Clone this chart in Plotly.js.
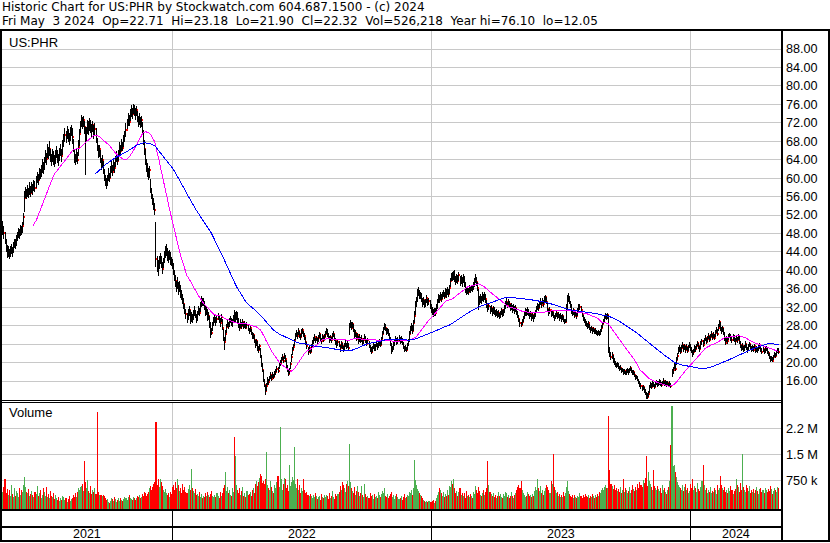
<!DOCTYPE html>
<html>
<head>
<meta charset="utf-8">
<script src="https://cdn.plot.ly/plotly-3.0.1.min.js"></script>
<style>
  html, body { margin: 0; padding: 0; background: #fff; }
  #chart { width: 830px; height: 543px; }
  /* hard-edged 1px strokes, like a raster stock chart */
  #chart .scatterlayer path, #chart .barlayer path, #chart .layer-above path,
  #chart .gridlayer path { shape-rendering: crispEdges; }
</style>
</head>
<body>
<div id="chart"></div>
<script>
// US:PHR daily bars, May 2021 - May 3 2024 (trading days, oldest first)

const close2021 = [
  49.2,48.0,46.5,45.1,43.6,44.2,43.1,44.0,44.6,43.9,
  45.2,46.0,45.4,46.8,47.5,48.2,47.6,49.0,48.4,49.6,
  51.5,55.8,56.9,56.2,57.4,56.6,57.9,56.8,58.2,57.5,
  58.6,57.9,59.4,60.1,59.6,61.2,60.5,61.8,62.6,62.0,
  63.5,64.8,64.1,65.9,65.2,66.4,64.7,63.8,65.1,64.2,
  63.6,64.9,65.8,64.5,63.9,65.3,66.1,64.8,66.9,68.2,
  69.4,68.7,70.2,69.1,68.4,69.8,70.5,68.9,66.2,64.5,
  63.8,65.2,64.0,66.8,69.5,71.4,72.8,71.9,72.6,71.0,
  68.4,69.9,71.8,70.6,72.1,71.3,70.2,71.6,69.8,70.7,
  68.5,66.9,65.2,66.4,64.1,62.8,63.9,61.5,60.2,59.1,
  58.6,59.8,60.9,60.0,61.8,62.5,61.4,63.2,62.1,63.8,
  64.6,63.7,65.4,66.8,65.9,67.5,66.6,68.3,69.1,70.4,
  71.8,72.9,72.2,73.8,74.6,73.9,75.2,74.5,74.0,74.8,
  73.1,72.4,73.0,71.8,72.6,70.2,68.1,66.4,64.0,62.5,
  61.4,60.6,61.8,57.4,56.2,55.3,54.4,53.2,42.5,41.2,
  40.6,41.8,42.6,41.5,40.4,41.9,42.8,43.9,44.6,43.4,
  42.8,43.6,42.4,41.9
];
const high2021 = [
  50.8,49.6,48.3,46.8,45.4,45.3,44.6,45.2,45.8,45.1,
  46.1,46.9,46.7,47.6,48.3,49.1,48.9,49.8,49.6,50.4,
  52.4,57.2,58.1,57.6,58.6,57.8,59.2,58.3,59.1,58.8,
  59.7,59.4,60.5,61.3,61.0,62.3,61.9,62.9,64.1,63.4,
  64.6,66.2,65.5,67.4,66.8,68.1,66.3,65.2,66.4,65.8,
  65.1,66.2,66.9,66.1,65.2,66.5,67.4,66.3,68.2,69.6,
  70.8,70.2,71.4,70.6,69.9,71.1,71.6,70.8,68.4,66.1,
  65.3,66.4,65.6,68.2,70.6,72.5,73.6,73.2,73.5,72.4,
  71.2,71.1,72.7,72.3,73.1,72.6,71.8,72.4,71.5,71.9,
  70.9,68.7,67.1,67.3,66.2,64.4,65.0,63.8,61.9,60.6,
  60.1,60.7,62.1,61.2,62.6,63.7,62.9,64.3,63.6,64.9,
  65.8,65.1,66.2,67.9,67.3,68.6,67.8,69.4,70.3,71.9,
  72.9,74.2,73.6,75.1,75.8,75.2,76.1,75.9,75.3,75.6,
  74.6,73.5,74.1,73.2,73.4,72.1,70.4,68.2,66.3,64.1,
  63.2,62.1,62.7,59.8,57.9,56.6,55.8,54.6,50.5,43.1,
  42.3,43.1,43.8,43.2,41.8,42.7,44.1,45.3,45.8,44.9,
  44.2,44.5,43.9,43.0
];
const low2021 = [
  47.6,46.9,45.8,43.9,42.6,42.9,42.4,42.8,43.5,43.0,
  43.8,44.9,44.6,45.2,46.4,47.1,46.8,47.5,47.6,48.2,
  49.8,52.6,55.6,55.4,55.9,55.7,56.4,55.9,56.7,56.4,
  57.2,56.9,57.8,58.9,58.6,59.5,59.8,60.3,61.2,60.9,
  61.8,63.2,62.8,64.3,64.1,64.9,63.5,62.6,63.4,62.9,
  62.4,63.1,64.4,63.2,62.6,63.7,64.8,63.6,65.1,66.7,
  67.9,67.6,68.5,67.9,67.2,68.1,69.2,67.5,65.6,63.2,
  62.8,63.4,63.1,64.7,66.9,69.8,71.2,70.6,71.1,69.5,
  60.6,67.8,69.6,69.4,70.3,69.9,68.7,70.1,68.6,69.2,
  67.6,65.8,64.3,64.6,63.2,61.7,62.4,60.8,59.3,58.2,
  57.7,58.2,59.3,59.2,60.1,61.2,60.5,61.6,61.2,62.4,
  63.5,62.9,63.8,65.1,65.2,66.0,65.8,66.7,67.9,69.0,
  70.6,71.4,71.3,72.4,73.2,72.8,73.9,73.4,72.6,73.5,
  72.2,71.1,71.6,70.9,71.2,69.5,67.3,65.1,62.8,61.4,
  60.3,59.5,60.1,56.8,55.4,54.1,53.2,52.1,40.8,39.6,
  38.8,40.2,41.3,40.6,39.2,40.5,41.6,42.7,43.2,42.1,
  41.7,42.3,41.2,40.9
];
const vol2021 = [
  420,560,790,380,510,330,470,290,610,350,
  280,520,310,450,380,260,540,330,470,400,
  620,855,560,420,380,510,290,360,440,320,
  270,410,350,600,290,380,460,250,330,520,
  410,300,560,280,350,240,430,310,260,390,
  200,330,240,170,280,150,230,190,310,260,
  180,240,130,210,290,160,220,250,330,280,
  380,260,410,520,460,560,590,640,430,1300,
  690,520,760,440,380,600,350,470,400,540,
  360,2730,410,320,340,330,310,335,290,240,
  180,220,130,90,160,240,200,150,260,210,
  120,190,230,160,250,180,140,210,270,230,
  190,260,320,240,210,170,280,250,190,230,
  300,260,340,230,280,360,310,420,380,290,
  350,410,520,600,480,560,640,700,2440,620,
  780,560,800,690,590,480,420,510,370,330,
  390,280,420,350
];

const close2022 = [
  41.2,39.8,38.5,37.6,36.2,37.1,35.8,36.5,35.2,34.6,
  33.4,32.8,31.2,30.5,29.6,30.8,31.4,29.2,30.1,29.5,
  30.6,31.2,30.1,29.4,30.5,31.6,30.8,32.4,33.5,32.8,
  33.2,31.9,30.8,31.4,29.6,30.2,28.4,26.6,26.4,28.1,
  28.9,29.6,28.8,29.4,30.1,29.2,28.5,29.8,27.6,25.2,
  24.4,26.3,27.8,28.6,27.9,28.9,29.5,28.2,28.8,29.7,
  29.2,30.3,30.6,29.4,28.3,27.6,28.5,27.9,28.7,27.8,
  28.4,27.6,28.2,27.3,26.8,27.5,26.2,25.4,25.9,24.8,
  23.9,24.6,23.2,22.8,23.5,21.2,19.5,18.4,16.2,15.1,
  13.8,14.9,16.2,15.8,16.6,17.2,16.5,17.4,16.9,17.6,
  17.9,18.6,18.2,19.4,19.9,20.6,21.2,20.4,21.5,20.7,
  19.2,18.4,17.6,18.1,19.6,21.3,22.8,23.4,24.6,25.8,
  26.4,25.8,26.9,26.1,25.5,26.6,27.0,26.2,25.7,24.4,
  23.6,22.4,23.1,22.2,23.5,24.2,24.9,25.6,24.8,25.3,
  24.6,25.4,26.1,25.2,24.7,25.8,24.9,25.5,26.3,27.1,
  26.2,25.6,24.8,25.5,24.9,25.8,26.2,25.1,24.6,23.9,
  24.5,23.8,23.1,24.2,23.5,22.8,23.6,24.1,23.4,24.0,
  23.2,27.8,28.4,27.6,28.3,27.1,25.8,26.4,25.2,25.9,
  24.6,25.4,24.8,25.2,24.3,24.9,25.5,24.6,24.1,24.8,
  23.6,23.1,22.4,23.2,23.8,22.9,23.5,24.1,23.3,24.0,
  24.6,23.8,25.1,26.3,27.2,28.0,27.4,26.5,27.1,26.2,
  25.3,24.1,22.6,22.9,23.8,24.6,25.2,24.4,24.9,25.3,
  24.6,25.1,24.3,23.4,22.9,23.1,22.7,23.8,24.6,26.2,
  27.0,27.8,26.9,28.5,30.2,32.6,33.4,34.8,35.6,34.2,
  34.9,33.6,32.8,33.5,32.4,33.2,33.9,32.7,33.4,32.2,31.6
];
const high2022 = [
  42.4,41.5,40.1,38.9,37.8,38.6,37.4,37.8,36.9,35.7,
  34.8,33.9,32.7,31.6,30.8,31.6,32.2,31.3,30.9,30.6,
  31.4,32.2,31.5,30.6,31.2,32.3,31.9,33.1,34.4,33.9,
  34.1,33.4,32.2,32.0,31.6,30.9,30.1,28.7,27.6,28.9,
  29.8,30.3,29.9,30.2,30.8,30.4,29.6,30.5,29.4,27.3,
  25.6,27.1,28.4,29.5,28.8,29.6,30.2,29.7,29.4,30.3,
  31.3,30.9,31.1,30.9,29.6,28.6,29.4,28.8,29.5,28.9,
  29.1,28.6,28.9,28.4,27.6,28.1,27.3,26.6,26.5,25.9,
  24.8,25.1,24.7,23.6,24.1,23.2,21.6,19.8,18.3,16.4,
  15.2,15.6,16.8,16.5,17.1,17.9,17.3,18.0,17.6,18.2,
  18.6,19.2,19.0,20.1,20.6,21.2,21.8,21.3,22.0,21.6,
  20.6,19.4,18.5,18.9,20.2,21.9,23.4,24.1,25.2,26.5,
  27.1,26.7,27.4,26.9,26.2,27.2,27.6,26.8,26.4,25.6,
  24.5,23.4,23.6,23.0,24.1,24.8,25.5,26.1,25.4,25.8,
  25.4,26.0,26.6,26.2,25.3,26.3,25.7,26.1,26.9,27.6,
  27.2,26.4,25.7,26.0,25.6,26.4,26.8,26.1,25.3,24.6,
  25.1,24.6,23.9,24.7,24.3,23.6,24.2,24.8,24.2,24.6,
  24.3,28.6,29.2,28.8,28.9,28.4,27.2,27.0,26.5,26.4,
  25.8,26.1,25.6,25.9,25.1,25.4,26.1,25.7,24.9,25.3,
  24.7,23.9,23.4,23.7,24.4,24.1,24.0,24.6,24.2,24.5,
  25.2,24.9,25.6,26.9,27.8,28.5,28.3,27.5,27.6,27.3,
  26.4,25.6,24.2,23.7,24.5,25.1,25.8,25.4,25.5,25.9,
  25.5,25.7,25.3,24.4,23.6,23.8,23.4,24.3,25.2,26.8,
  27.9,28.6,28.1,29.3,31.1,33.4,34.2,35.9,36.3,35.8,
  35.4,35.1,33.9,34.2,33.6,33.8,34.6,33.8,34.1,33.5,32.6
];
const low2022 = [
  40.3,39.1,37.6,36.4,35.3,35.9,34.7,35.4,34.1,33.6,
  32.6,31.7,30.6,29.4,28.5,29.3,30.2,28.4,28.9,28.6,
  29.3,30.1,29.6,28.6,29.1,30.4,30.2,30.9,32.1,32.2,
  32.3,31.5,30.2,30.4,29.1,29.3,27.6,25.4,25.9,26.8,
  27.9,28.6,27.9,28.5,29.2,28.6,27.7,28.8,27.1,24.6,
  22.8,24.6,26.5,27.7,27.3,27.8,28.6,27.9,27.8,28.6,
  28.8,28.9,29.3,28.6,27.6,26.9,27.4,27.3,28.0,27.2,
  27.5,27.2,27.4,26.9,26.1,26.7,25.9,25.1,25.2,24.3,
  23.2,23.6,22.6,22.1,22.7,20.9,19.1,17.9,15.8,14.6,
  13.0,13.9,15.1,15.2,15.9,16.4,16.1,16.6,16.4,16.9,
  17.3,17.9,17.7,18.5,19.2,19.8,20.6,19.9,20.7,20.1,
  18.8,17.9,17.0,17.5,18.6,20.1,21.6,22.7,23.6,24.8,
  25.6,25.2,25.9,25.4,24.8,25.6,26.3,25.6,24.9,23.8,
  22.9,21.7,22.3,21.8,22.4,23.4,24.1,24.7,24.2,24.6,
  24.1,24.5,25.3,24.7,24.1,24.9,24.4,24.8,25.5,26.2,
  25.6,25.1,24.2,24.6,24.3,24.9,25.5,24.6,23.9,23.2,
  23.6,23.3,22.4,23.2,22.9,22.4,22.7,23.3,22.9,23.2,
  22.7,25.9,27.4,27.1,27.4,26.6,25.3,25.5,24.7,25.1,
  24.1,24.5,24.2,24.4,23.7,24.1,24.8,24.2,23.6,24.0,
  23.2,22.4,21.9,22.3,23.0,22.5,22.6,23.3,22.8,23.2,
  23.7,23.4,23.9,25.2,26.1,27.1,26.9,26.0,26.3,25.8,
  24.8,23.5,21.9,22.2,22.8,23.7,24.4,23.9,24.1,24.6,
  24.1,24.2,23.8,22.9,22.3,22.5,22.3,22.8,23.6,24.4,
  26.1,26.9,26.2,26.8,28.6,30.4,32.1,33.2,34.4,33.8,
  33.7,33.1,32.1,32.4,31.8,32.1,33.0,32.2,32.4,31.6,30.8
];
const vol2022 = [
  560,620,480,700,540,790,610,450,520,380,
  640,480,560,420,390,510,610,460,1070,540,
  430,380,490,330,360,300,420,280,350,240,
  310,260,380,290,420,330,270,360,450,310,
  260,340,280,390,310,250,420,300,380,520,
  610,1000,430,560,380,470,340,290,520,410,
  2000,1450,620,480,390,520,330,430,560,300,
  380,270,440,320,360,410,290,480,520,390,
  630,740,580,690,810,930,870,660,720,640,
  790,1560,610,540,480,720,560,430,380,620,
  520,690,860,560,2290,780,460,640,830,800,
  520,610,430,1200,580,700,840,760,1700,650,
  520,780,460,610,390,530,440,800,470,380,
  420,340,290,360,310,240,330,270,380,300,
  220,280,310,190,350,260,230,320,270,340,
  290,210,380,250,300,430,270,220,360,310,
  350,420,580,470,700,620,540,410,650,720,
  600,1790,690,520,430,380,560,340,450,600,
  420,300,380,600,330,280,640,350,260,310,
  240,380,290,330,220,360,270,310,250,400,
  330,280,360,430,390,520,310,280,350,240,
  300,360,410,260,330,220,290,350,270,210,
  250,310,190,280,360,230,270,320,290,420,
  380,460,330,540,1340,760,620,500,430,380,
  340,290,240,180,150,120,140,110,160,130,120
];

const close2023 = [
  31.2,30.5,31.4,30.8,31.9,33.2,34.1,33.6,34.5,33.8,
  34.6,35.1,34.3,35.4,34.8,35.6,34.9,36.2,37.8,38.9,
  38.2,39.1,38.4,37.6,38.5,37.8,38.9,37.2,38.4,37.5,
  38.6,37.1,35.8,35.2,35.9,35.4,36.2,35.7,36.4,35.9,
  36.8,37.6,38.3,37.4,36.2,33.8,33.1,34.2,33.5,34.4,
  33.8,34.6,33.7,32.4,31.6,32.2,31.1,31.8,30.9,31.5,
  31.2,30.4,31.0,30.2,30.8,29.9,30.6,31.3,30.5,30.9,
  31.8,32.6,33.1,32.4,33.2,32.6,31.9,32.3,31.5,32.0,
  31.2,31.8,30.9,30.2,29.4,28.6,28.2,28.9,29.6,30.4,
  31.1,30.6,31.4,30.8,30.1,30.7,29.8,30.4,29.6,30.2,
  30.9,31.6,32.4,31.8,32.6,33.2,32.5,33.4,32.8,33.9,
  34.2,33.1,31.6,30.8,31.4,30.5,30.9,30.2,29.6,30.3,
  30.8,29.9,30.4,29.7,30.2,29.5,30.1,29.3,28.8,28.9,
  31.5,33.6,34.2,33.1,32.4,31.2,30.6,31.4,30.2,30.8,
  30.1,31.2,31.9,32.1,31.4,30.3,29.6,29.1,28.7,28.4,
  27.8,28.5,27.6,27.1,27.5,26.8,27.3,26.6,26.9,26.4,
  26.1,26.5,26.2,26.8,27.6,28.4,28.9,29.6,30.1,29.8,
  30.3,22.6,21.8,21.2,21.6,20.6,20.2,19.7,19.3,19.6,
  19.1,18.6,18.9,18.2,18.4,17.8,18.1,17.6,17.9,18.3,
  17.9,18.4,18.8,18.2,17.6,17.9,17.2,16.6,16.9,16.3,
  15.8,15.4,14.9,14.3,14.6,13.8,13.4,12.8,12.6,13.2,
  14.6,15.2,14.8,15.4,15.1,14.7,15.3,15.6,15.2,15.5,
  15.8,15.4,15.1,15.6,15.9,15.3,15.7,15.2,15.5,15.0,
  15.4,14.9,17.8,18.4,19.2,18.7,20.6,21.4,22.6,23.1,
  22.4,23.2,23.8,22.9,23.5,22.7,23.4,22.6,23.3,23.8
];
const high2023 = [
  32.1,31.6,31.9,31.8,32.6,33.8,34.8,34.6,35.2,34.9,
  35.3,35.8,35.4,36.1,35.9,36.4,36.0,36.9,38.4,39.5,
  39.6,39.8,40.0,38.8,39.2,38.9,39.6,38.7,39.1,38.6,
  39.3,38.7,37.4,36.3,36.6,36.1,36.8,36.5,36.9,36.6,
  37.4,38.3,39.2,38.6,37.5,35.9,34.4,34.8,34.5,35.2,
  34.9,35.3,34.8,33.6,32.5,32.9,32.2,32.5,31.8,32.3,
  32.0,31.4,31.6,31.1,31.4,30.8,31.2,31.9,31.4,31.6,
  32.4,33.4,33.9,33.2,33.8,33.4,32.8,32.9,32.4,32.7,
  32.3,32.4,31.9,31.1,30.3,29.5,28.9,29.4,30.2,31.0,
  31.8,31.6,32.0,31.7,31.0,31.2,30.6,30.9,30.4,30.8,
  31.4,32.2,33.0,32.7,33.1,33.9,33.4,33.9,33.6,34.4,
  34.6,34.3,33.0,31.7,32.0,31.3,31.5,31.0,30.4,30.8,
  31.4,30.7,31.0,30.5,30.8,30.3,30.6,30.0,29.5,29.4,
  32.8,34.6,35.1,34.4,33.3,32.6,31.4,31.9,31.3,31.5,
  30.9,31.8,32.6,32.7,32.3,31.2,30.4,29.8,29.4,29.1,
  28.6,29.0,28.4,27.8,28.0,27.6,27.8,27.3,27.4,27.0,
  26.8,27.1,26.9,27.3,28.2,28.9,29.5,30.2,30.7,30.5,
  30.8,30.3,23.4,22.3,22.4,21.7,21.0,20.4,19.9,20.2,
  19.8,19.3,19.4,18.9,18.9,18.5,18.6,18.2,18.5,18.9,
  18.6,18.9,19.2,18.9,18.3,18.4,17.9,17.3,17.4,17.0,
  16.5,16.1,15.6,15.0,15.2,14.7,14.2,13.7,13.3,13.9,
  15.2,15.8,15.6,16.0,15.8,15.4,15.9,16.3,15.9,16.1,
  16.4,16.2,15.8,16.1,16.6,16.0,16.3,15.9,16.0,15.6,
  15.9,15.6,18.6,19.1,19.8,19.6,21.2,22.1,23.4,23.9,
  23.3,23.9,24.5,23.8,24.1,23.5,24.0,23.4,23.9,24.4
];
const low2023 = [
  30.4,29.9,30.2,30.0,30.7,31.7,32.9,33.0,33.6,33.1,
  33.8,34.2,33.8,34.2,34.1,34.6,34.3,34.8,36.3,37.6,
  37.6,37.9,37.5,36.8,37.3,37.1,37.6,36.6,37.0,36.5,
  37.2,36.3,35.1,34.6,34.9,34.7,35.3,35.0,35.5,35.2,
  35.7,36.5,37.2,36.6,35.6,31.5,32.4,32.9,32.7,33.3,
  33.1,33.6,33.0,31.9,30.9,31.3,30.6,30.9,30.1,30.6,
  30.4,29.8,30.1,29.6,29.9,29.5,29.7,30.4,29.9,30.1,
  30.7,31.6,32.3,31.8,32.4,31.9,31.2,31.5,30.8,31.2,
  30.6,30.9,30.3,29.6,28.7,27.8,27.8,28.1,28.8,29.5,
  30.2,30.0,30.4,30.1,29.5,29.8,29.1,29.5,28.9,29.4,
  29.9,30.7,31.5,31.2,31.8,32.4,31.9,32.6,32.1,33.0,
  33.2,32.6,31.0,30.1,30.6,29.9,30.1,29.6,29.0,29.5,
  29.8,29.4,29.6,29.1,29.4,28.9,29.2,28.8,28.4,28.5,
  28.9,31.4,33.2,32.6,31.8,30.6,30.0,30.4,29.7,30.0,
  29.4,30.2,31.1,31.3,30.7,29.8,29.0,28.5,28.0,27.7,
  27.2,27.6,27.1,26.5,26.8,26.3,26.6,26.1,26.3,25.9,
  25.7,25.9,25.8,26.0,26.7,27.6,28.3,28.8,29.4,29.2,
  29.5,22.1,21.1,20.5,20.8,20.0,19.5,19.1,18.8,19.0,
  18.6,18.1,18.3,17.8,17.9,17.4,17.6,17.3,17.4,17.7,
  17.4,17.7,18.2,17.8,17.2,17.3,16.8,16.2,16.4,15.9,
  15.3,14.8,14.3,13.8,14.0,13.3,12.9,12.05,12.2,12.5,
  13.4,14.4,14.3,14.8,14.6,14.3,14.7,15.1,14.8,15.0,
  15.2,15.0,14.7,15.1,15.3,14.9,15.2,14.8,15.0,14.6,
  14.8,14.5,16.9,17.6,18.5,18.2,19.5,20.6,21.8,22.3,
  21.9,22.4,23.1,22.4,22.8,22.1,22.7,22.0,22.6,23.1
];
const vol2023 = [
  140,180,100,160,250,330,420,520,470,380,
  300,420,260,350,290,480,320,600,560,720,
  650,800,540,380,450,300,420,520,340,390,
  310,380,250,440,290,330,270,360,300,240,
  410,350,600,480,390,560,430,340,290,380,
  460,330,400,520,1300,610,420,350,300,380,
  270,330,240,310,420,290,350,280,230,360,
  300,420,370,280,340,250,310,400,290,230,
  320,380,470,560,610,520,740,460,390,340,
  280,310,400,350,290,330,270,360,300,450,
  560,480,800,520,430,600,380,470,330,440,
  520,610,560,480,390,730,640,1500,560,470,
  380,420,300,350,280,330,260,410,300,370,
  560,720,430,350,300,270,320,250,340,280,
  230,310,260,390,300,240,330,280,360,300,
  270,330,240,300,260,350,290,230,320,280,
  350,300,420,380,460,520,480,560,610,540,
  520,2600,1050,640,580,500,620,470,540,430,
  500,420,560,380,470,800,420,520,460,380,
  440,560,390,480,620,510,430,560,480,650,
  540,700,620,560,760,680,820,1450,600,1000,
  720,650,560,480,1050,600,520,460,580,490,
  430,520,380,610,460,540,400,350,480,560,
  720,1780,2890,1150,1200,980,840,700,620,560,
  520,480,610,430,560,640,470,520,390,450
];

const close2024 = [
  23.1,22.6,21.8,22.4,23.2,22.9,23.6,24.2,23.5,22.9,
  24.1,24.6,23.9,24.8,25.3,24.5,25.1,25.8,24.9,25.6,
  26.2,25.4,26.0,25.3,26.4,27.1,26.3,27.6,28.7,27.2,
  26.8,27.4,26.5,25.1,24.3,25.2,24.6,25.5,26.0,25.3,
  24.8,25.6,25.1,24.6,25.4,24.9,25.7,24.5,23.8,23.1,
  23.6,22.8,23.4,24.1,23.2,22.7,23.5,24.0,23.3,22.9,
  23.4,22.8,23.6,22.5,23.1,22.7,23.3,23.8,22.9,22.4,
  22.9,22.3,22.8,23.1,22.4,22.0,21.3,20.6,20.9,20.4,
  21.2,21.8,21.4,22.2,22.6,22.32
];
const high2024 = [
  24.0,23.4,22.8,23.0,23.8,23.6,24.1,24.7,24.3,23.7,
  24.7,25.2,24.8,25.4,25.9,25.4,25.7,26.4,25.8,26.2,
  26.9,26.3,26.6,26.1,27.0,27.8,27.2,28.3,29.3,28.9,
  27.7,28.0,27.5,26.6,25.4,25.8,25.4,26.2,26.4,26.1,
  25.6,26.1,25.9,25.3,25.9,25.6,26.3,25.8,24.7,23.9,
  24.2,23.7,23.9,24.6,24.0,23.4,24.1,24.5,24.1,23.5,
  23.9,23.6,24.1,23.4,23.6,23.3,23.8,24.2,23.7,23.1,
  23.4,23.0,23.3,23.6,23.2,22.6,22.1,21.4,21.5,21.2,
  21.7,22.4,22.1,22.8,23.2,23.18
];
const low2024 = [
  22.5,22.0,21.3,21.7,22.4,22.3,22.9,23.5,22.9,22.3,
  23.0,23.8,23.4,24.1,24.6,24.0,24.4,25.1,24.5,24.9,
  25.5,24.9,25.3,24.8,25.6,26.4,25.8,26.8,27.7,26.8,
  26.1,26.6,25.9,24.6,23.8,24.4,24.0,24.8,25.3,24.7,
  24.2,24.7,24.5,23.9,24.6,24.3,24.9,24.1,23.1,22.5,
  22.7,22.2,22.6,23.2,22.8,22.1,22.6,23.3,22.8,22.3,
  22.6,22.3,22.9,22.0,22.4,22.1,22.6,23.0,22.3,21.9,
  22.2,21.8,22.1,22.5,21.9,21.4,20.8,20.2,20.3,20.1,
  20.6,21.1,20.9,21.5,22.0,21.90
];
const vol2024 = [
  640,520,780,460,600,530,420,680,500,440,
  560,720,1200,610,480,540,390,470,420,560,
  380,450,400,520,460,350,610,480,530,880,
  620,540,470,560,410,480,390,520,440,600,
  480,360,430,510,800,620,550,420,680,470,
  1500,560,480,410,620,520,440,580,390,460,
  420,510,380,470,560,430,360,490,520,410,
  470,380,540,460,400,510,430,580,490,360,
  450,520,480,410,560,526.218
];

const lastOpen = 22.71;
const years = ['2021', '2022', '2023', '2024'];
const priceTicks = [16, 20, 24, 28, 32, 36, 40, 44, 48, 52, 56, 60, 64, 68, 72, 76, 80, 84, 88];
const volTicks = [750, 1500, 2250];
const volTickText = ['750 k', '1.5 M', '2.2 M'];

// ---------------------------------------------------------------------------

const closes = [].concat(close2021, close2022, close2023, close2024);
const highs  = [].concat(high2021, high2022, high2023, high2024);
const lows   = [].concat(low2021, low2022, low2023, low2024);
const vols   = [].concat(vol2021, vol2022, vol2023, vol2024);
const n = closes.length;
const idx = closes.map((_, i) => i);

// year segments in bar-index units
const yearLens = [close2021.length, close2022.length, close2023.length, close2024.length];
const yearStart = [];
let acc = 0;
yearLens.forEach(l => { yearStart.push(acc); acc += l; });
const yearEdges = yearStart.slice(1).map(s => s - 0.5);
const X0 = -0.9, X1 = n + 1.4;
const yearMid = yearStart.map((s, k) => {
  const a = k === 0 ? X0 : s - 0.5;
  const b = k === yearStart.length - 1 ? X1 : yearStart[k + 1] - 0.5;
  return (a + b) / 2;
});

// high-low bars as one broken polyline
const barX = [], barY = [];
for (let i = 0; i < n; i++) {
  barX.push(i, i, null);
  barY.push(lows[i], highs[i], null);
}

function sma(src, len) {
  return src.map((_, i) => {
    if (i < len - 1) return null;
    let s = 0;
    for (let j = i - len + 1; j <= i; j++) s += src[j];
    return s / len;
  });
}
const ma30 = sma(closes, 30);
const ma90 = sma(closes, 90);

const volColors = closes.map((c, i) => {
  if (i === 0) return '#4caf50';
  if (c > closes[i - 1]) return '#4caf50';
  if (c < closes[i - 1]) return '#ff0000';
  return '#a0a0a0';
});

const VOL_FLOOR = -78, VOL_TOP = 3009;

// page geometry (pixels -> paper)
const W = 830, H = 543;
const pxX = x => x / W;
const pxY = y => 1 - y / H;
const FONT = '"Liberation Sans", Arial, Helvetica, sans-serif';
const HEAD_FONT = '"DejaVu Sans", Verdana, sans-serif';

const hiAll = Math.max.apply(null, highs);
const loAll = Math.min.apply(null, lows);
const nb = '\u00a0';
const fmt2 = v => v.toFixed(2);
const line1 = 'Historic Chart for US:PHR by Stockwatch.com 604.687.1500 - (c) 2024';
const line2 = 'Fri May' + nb + nb + '3 2024' + nb + nb +
  'Op=' + fmt2(lastOpen) + nb + nb +
  'Hi=' + fmt2(highs[n - 1]) + nb + nb +
  'Lo=' + fmt2(lows[n - 1]) + nb + nb +
  'Cl=' + fmt2(closes[n - 1]) + nb + nb +
  'Vol=' + Math.round(vols[n - 1] * 1000).toLocaleString('en-US') + nb + nb +
  'Year hi=' + fmt2(hiAll) + nb + nb + 'lo=' + fmt2(loAll);

const traces = [
  {
    type: 'bar', x: idx, y: vols.map(v => v - VOL_FLOOR), base: VOL_FLOOR,
    width: 1, marker: { color: volColors, line: { width: 0 } },
    xaxis: 'x2', yaxis: 'y2', hoverinfo: 'skip'
  },
  {
    type: 'scatter', mode: 'markers', x: idx.map(i => i + 0.5), y: closes,
    marker: { symbol: 'square', size: 2, color: '#ff0000', line: { width: 0 } },
    xaxis: 'x', yaxis: 'y', hoverinfo: 'skip'
  },
  {
    type: 'scatter', mode: 'lines', x: barX, y: barY,
    line: { color: '#000000', width: 1 }, connectgaps: false,
    xaxis: 'x', yaxis: 'y', hoverinfo: 'skip'
  },
  {
    type: 'scatter', mode: 'lines', x: idx, y: ma30,
    line: { color: '#ff00ff', width: 1 }, xaxis: 'x', yaxis: 'y', hoverinfo: 'skip'
  },
  {
    type: 'scatter', mode: 'lines', x: idx, y: ma90,
    line: { color: '#0000ff', width: 1 }, xaxis: 'x', yaxis: 'y', hoverinfo: 'skip'
  }
];

const gridColor = '#c8c8c8';
const xCommon = {
  domain: [pxX(2), pxX(781)], range: [X0, X1],
  tickmode: 'array', tickvals: yearEdges, showticklabels: false, ticks: '',
  showgrid: true, gridcolor: gridColor, gridwidth: 1,
  zeroline: false, showline: false, fixedrange: true
};

function hline(y, x0, x1, w) {
  return { type: 'line', xref: 'paper', yref: 'paper', x0: pxX(x0), x1: pxX(x1),
           y0: pxY(y), y1: pxY(y), line: { color: '#000', width: w } };
}
function vline(x, y0, y1, w) {
  return { type: 'line', xref: 'paper', yref: 'paper', x0: pxX(x), x1: pxX(x),
           y0: pxY(y0), y1: pxY(y1), line: { color: '#000', width: w } };
}

const shapes = [
  hline(30, 0, 830, 2),
  vline(1, 30, 542, 2),
  vline(828.5, 30, 542, 2),
  vline(782, 30, 542, 2),
  hline(400, 0, 782, 1),
  hline(402, 0, 782, 1),
  hline(510, 0, 782, 2),
  hline(527, 0, 782, 2),
  hline(541, 0, 830, 2)
].concat(yearEdges.map(e => ({
  type: 'line', xref: 'x', yref: 'paper', x0: e, x1: e,
  y0: pxY(510), y1: pxY(541), line: { color: '#000', width: 1 }
})));

const headFont = { family: HEAD_FONT, size: 12, color: '#000' };
const annotations = [
  { text: line1, xref: 'paper', yref: 'paper', x: pxX(1), y: pxY(7.3),
    xanchor: 'left', yanchor: 'middle', showarrow: false, borderpad: 0, font: headFont },
  { text: line2, xref: 'paper', yref: 'paper', x: pxX(1), y: pxY(21.4),
    xanchor: 'left', yanchor: 'middle', showarrow: false, borderpad: 0, font: headFont },
  { text: 'US:PHR', xref: 'paper', yref: 'paper', x: pxX(8), y: pxY(42),
    xanchor: 'left', yanchor: 'middle', showarrow: false, borderpad: 0,
    font: { family: FONT, size: 13, color: '#000' } },
  { text: 'Volume', xref: 'paper', yref: 'paper', x: pxX(7.5), y: pxY(413),
    xanchor: 'left', yanchor: 'middle', showarrow: false, borderpad: 0,
    font: { family: FONT, size: 13, color: '#000' } }
].concat(years.map((yr, k) => ({
  text: yr, xref: 'x', yref: 'paper', x: yearMid[k], y: pxY(534),
  xanchor: 'center', yanchor: 'middle', showarrow: false, borderpad: 0,
  font: { family: FONT, size: 12.5, color: '#000' }
})));

const layout = {
  width: W, height: H,
  margin: { l: 0, r: 0, t: 0, b: 0, pad: 0 },
  paper_bgcolor: '#ffffff', plot_bgcolor: '#ffffff',
  showlegend: false, bargap: 0,
  font: { family: FONT, size: 13, color: '#000' },
  xaxis: Object.assign({ anchor: 'y' }, xCommon),
  xaxis2: Object.assign({ anchor: 'y2' }, xCommon),
  yaxis: {
    domain: [pxY(400), pxY(31)], range: [11.88, 91.92], side: 'right', anchor: 'x',
    tickmode: 'array', tickvals: priceTicks, ticktext: priceTicks.map(v => v.toFixed(2)),
    ticks: '', ticklabelstandoff: 4,
    showgrid: true, gridcolor: gridColor, gridwidth: 1,
    zeroline: false, showline: false, fixedrange: true,
    tickfont: { family: FONT, size: 12.6, color: '#000' }
  },
  yaxis2: {
    domain: [pxY(509), pxY(402)], range: [VOL_FLOOR, VOL_TOP], side: 'right', anchor: 'x2',
    tickmode: 'array', tickvals: volTicks, ticktext: volTickText,
    ticks: '', ticklabelstandoff: 4,
    showgrid: true, gridcolor: gridColor, gridwidth: 1,
    zeroline: false, showline: false, fixedrange: true,
    tickfont: { family: FONT, size: 12.8, color: '#000' }
  },
  shapes: shapes,
  annotations: annotations
};

Plotly.newPlot('chart', traces, layout, { staticPlot: true, displayModeBar: false });
</script>
</body>
</html>
